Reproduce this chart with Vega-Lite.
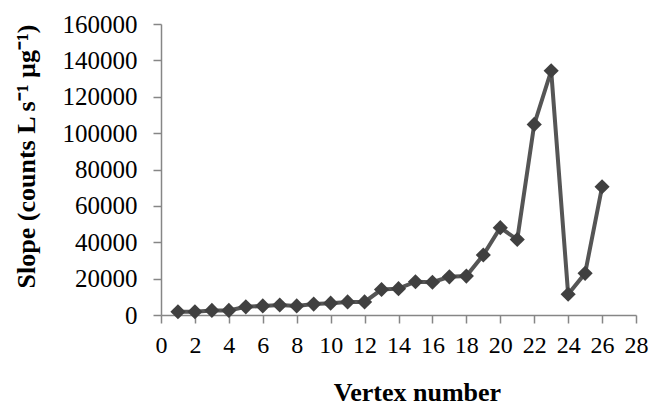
{
  "$schema": "https://vega.github.io/schema/vega-lite/v6.json",
  "width": 475,
  "height": 291,
  "autosize": "none",
  "padding": {"left": 161, "top": 24, "right": 13, "bottom": 92},
  "background": "white",
  "config": {"view": {"stroke": null}},
  "data": {"values": [
    {"v": 1, "s": 1800}, {"v": 2, "s": 1800}, {"v": 3, "s": 2500}, {"v": 4, "s": 2500},
    {"v": 5, "s": 4500}, {"v": 6, "s": 5000}, {"v": 7, "s": 5500}, {"v": 8, "s": 5000},
    {"v": 9, "s": 6000}, {"v": 10, "s": 6500}, {"v": 11, "s": 7200}, {"v": 12, "s": 7200},
    {"v": 13, "s": 14000}, {"v": 14, "s": 14500}, {"v": 15, "s": 18300}, {"v": 16, "s": 18000},
    {"v": 17, "s": 21000}, {"v": 18, "s": 21400}, {"v": 19, "s": 33000}, {"v": 20, "s": 48000},
    {"v": 21, "s": 41500}, {"v": 22, "s": 104800}, {"v": 23, "s": 134300}, {"v": 24, "s": 11400},
    {"v": 25, "s": 22900}, {"v": 26, "s": 70500}
  ]},
  "encoding": {
    "x": {"field": "v", "type": "quantitative",
      "scale": {"domain": [0, 28], "nice": false, "zero": false},
      "axis": {"values": [0,2,4,6,8,10,12,14,16,18,20,22,24,26,28], "grid": false, "labelOverlap": false, "labelFlush": false, "labelBound": false,
        "title": "Vertex number", "titleFont": "Liberation Serif", "titleFontSize": 26, "titleFontWeight": "bold", "titleColor": "black",
        "titleX": 256, "titleY": 85, "titleBaseline": "alphabetic",
        "labelFont": "Liberation Serif", "labelFontSize": 24, "labelColor": "black", "labelPadding": 10,
        "domainColor": "#868686", "domainWidth": 1.5, "tickColor": "#868686", "tickWidth": 1.5, "tickSize": 8}},
    "y": {"field": "s", "type": "quantitative",
      "scale": {"domain": [0, 160000], "nice": false},
      "axis": {"values": [0,20000,40000,60000,80000,100000,120000,140000,160000], "grid": false, "format": "d", "labelOverlap": false, "labelFlush": false,
        "title": "Slope (counts L s⁻¹ µg⁻¹)", "titleFont": "Liberation Serif", "titleFontSize": 26, "titleFontWeight": "bold", "titleColor": "black",
        "titleX": -135, "titleY": 132, "titleAngle": -90, "titleBaseline": "middle", "titleAlign": "center",
        "labelFont": "Liberation Serif", "labelFontSize": 25, "labelColor": "black", "labelPadding": 16,
        "domainColor": "#868686", "domainWidth": 1.5, "tickColor": "#868686", "tickWidth": 1.5, "tickSize": 8}}
  },
  "layer": [
    {"mark": {"type": "line", "color": "#555555", "strokeWidth": 4}},
    {"mark": {"type": "point", "shape": "diamond", "filled": true, "color": "#404040", "size": 230, "opacity": 1}}
  ]
}
